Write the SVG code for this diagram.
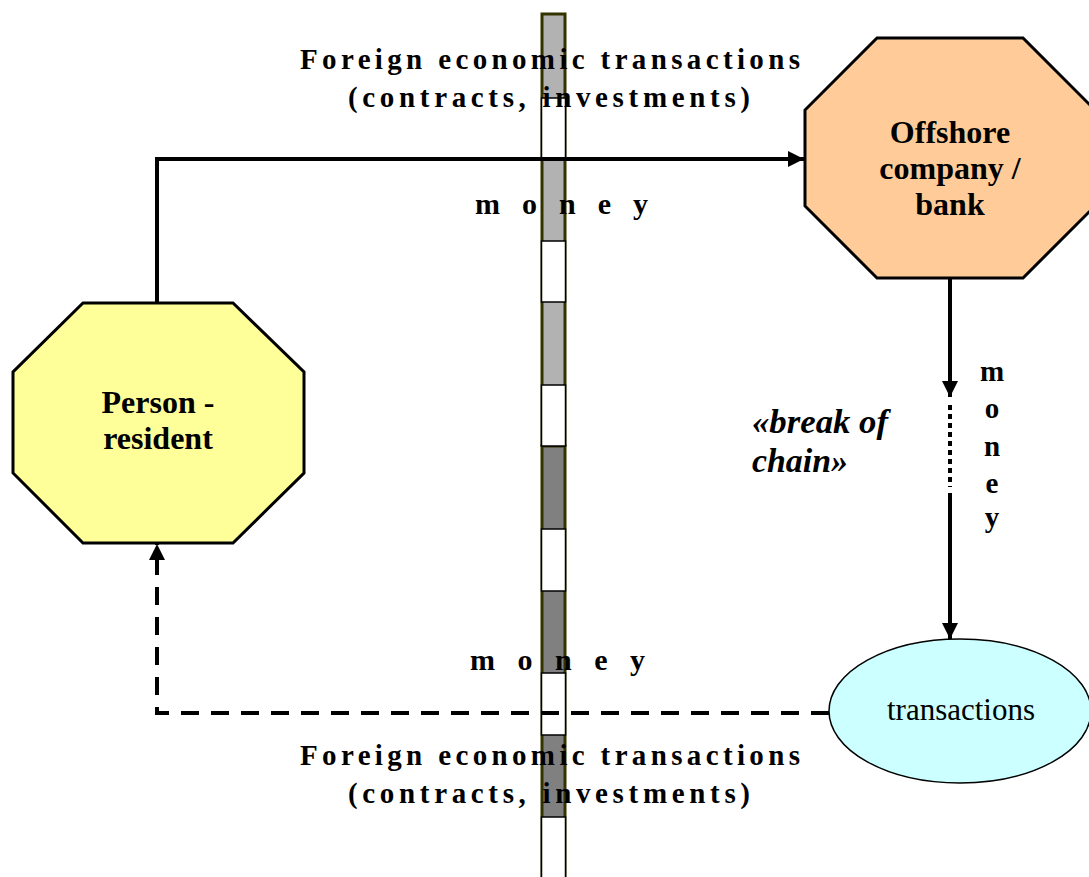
<svg xmlns="http://www.w3.org/2000/svg" width="1089" height="877" viewBox="0 0 1089 877">
<style>
.lbl{font-family:"Liberation Serif","Times New Roman",serif;font-weight:bold;fill:#000}
.node{stroke:#000;stroke-width:3;stroke-linejoin:miter}
.conn{fill:none;stroke:#000;stroke-width:4}
.wseg{fill:#fff;stroke:#000;stroke-width:1.5}
</style>
<defs>
<marker id="arr" markerUnits="userSpaceOnUse" markerWidth="18" markerHeight="18" refX="16" refY="8" orient="auto">
<path d="M0,0 L16,8 L0,16 Z" fill="#000"/>
</marker>
</defs>
<rect width="1089" height="877" fill="#fff"/>

<g id="border-stripe">
<rect x="542" y="14" width="23" height="431" fill="#b2b2b2" stroke="#333300" stroke-width="3"/>
<rect x="542" y="446" width="23" height="440" fill="#808080" stroke="#333300" stroke-width="3"/>
<rect class="wseg" x="541.5" y="98" width="24" height="61"/>
<rect class="wseg" x="541.5" y="241" width="24" height="61"/>
<rect class="wseg" x="541.5" y="385" width="24" height="61"/>
<rect class="wseg" x="541.5" y="529" width="24" height="62"/>
<rect class="wseg" x="541.5" y="673" width="24" height="62"/>
<rect class="wseg" x="541.5" y="817" width="24" height="70"/>
</g>

<g id="connectors">
<path class="conn" d="M157,303 V159 H804" marker-end="url(#arr)"/>
<path class="conn" d="M950,278 V397" marker-end="url(#arr)"/>
<path class="conn" d="M950,405 V487" stroke-width="5" stroke-dasharray="5 4"/>
<path class="conn" d="M950,493 V639" marker-end="url(#arr)"/>
<path class="conn" d="M829,713 H157 V544" stroke-dasharray="18 12" marker-end="url(#arr)"/>
</g>

<g id="offshore">
<polygon class="node" fill="#ffcc99" points="877,38 1023,38 1095,110 1095,206 1023,278 877,278 805,206 805,110"/>
<text class="lbl" font-size="32" text-anchor="middle" x="950" y="143">Offshore</text>
<text class="lbl" font-size="32" text-anchor="middle" x="950" y="179">company /</text>
<text class="lbl" font-size="32" text-anchor="middle" x="950" y="215">bank</text>
</g>

<g id="person">
<polygon class="node" fill="#ffff99" points="83,303 233,303 304,372 304,473 233,543 83,543 13,473 13,372"/>
<text class="lbl" font-size="32" text-anchor="middle" x="158" y="413">Person -</text>
<text class="lbl" font-size="32" text-anchor="middle" x="158" y="449">resident</text>
</g>

<g id="transactions">
<ellipse cx="960" cy="711" rx="131" ry="72" fill="#ccffff" stroke="#000" stroke-width="1.5"/>
<text font-family="Liberation Serif,'Times New Roman',serif" font-size="31" text-anchor="middle" x="961" y="720">transactions</text>
</g>

<g id="labels">
<text class="lbl" font-size="29" x="300" y="69" textLength="500" lengthAdjust="spacing">Foreign economic transactions</text>
<text class="lbl" font-size="29" x="348" y="107" textLength="402" lengthAdjust="spacing">(contracts, investments)</text>
<text class="lbl" font-size="30" x="475" y="214" textLength="173" lengthAdjust="spacing">money</text>
<text class="lbl" font-size="30" x="470" y="670" textLength="175" lengthAdjust="spacing">money</text>
<text class="lbl" font-size="29" x="300" y="765" textLength="500" lengthAdjust="spacing">Foreign economic transactions</text>
<text class="lbl" font-size="29" x="348" y="803" textLength="402" lengthAdjust="spacing">(contracts, investments)</text>
<g class="lbl" font-size="29" text-anchor="middle">
<text x="992" y="381">m</text>
<text x="992" y="418">o</text>
<text x="992" y="456">n</text>
<text x="992" y="493">e</text>
<text x="992" y="527">y</text>
</g>
<text class="lbl" font-size="33" font-style="italic" x="752" y="433" textLength="136" lengthAdjust="spacingAndGlyphs">«break of</text>
<text class="lbl" font-size="33" font-style="italic" x="752" y="472" textLength="96" lengthAdjust="spacingAndGlyphs">chain»</text>
</g>
</svg>
